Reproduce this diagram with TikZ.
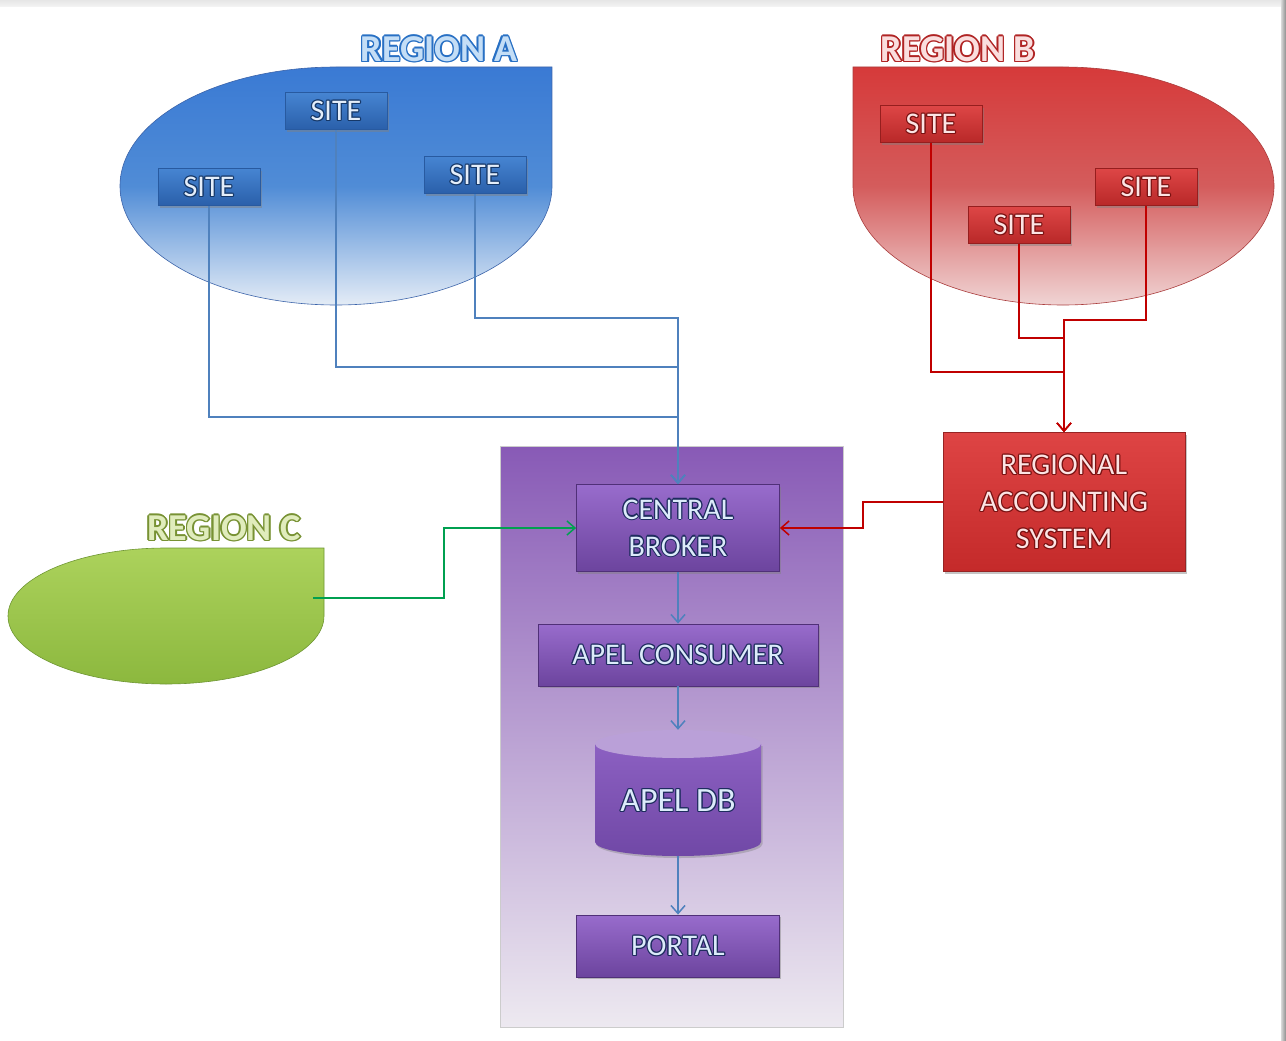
\documentclass[tikz,border=0pt]{standalone}
\usepackage{fontspec}
\setmainfont{Carlito}
\usetikzlibrary{arrows.meta,shadows,calc}
\definecolor{blline}{HTML}{4F81BD}
\definecolor{rdline}{HTML}{C00000}
\definecolor{grline}{HTML}{00A050}
\definecolor{ptxt}{HTML}{DCEBFA}
\definecolor{pout}{HTML}{1E2C5E}
\definecolor{btxt}{HTML}{E4EEFA}
\definecolor{bout}{HTML}{163868}
\definecolor{rtxt}{HTML}{FCE4E4}
\definecolor{rout}{HTML}{7A1212}
\definecolor{pboxtop}{RGB}{152,108,204}
\definecolor{pboxbot}{RGB}{108,68,158}
\definecolor{tAf}{RGB}{196,222,246}
\definecolor{tAo}{RGB}{40,112,196}
\definecolor{tBf}{RGB}{250,222,222}
\definecolor{tBo}{RGB}{176,36,36}
\definecolor{tCf}{RGB}{224,236,188}
\definecolor{tCo}{RGB}{120,146,52}
\newbox\olbox
\newdimen\olda
\newdimen\oldb
\newcommand\olt[4]{% #1 fill, #2 outline, #3 offset, #4 text
 \setbox\olbox\hbox{#4}\olda=#3\relax\oldb=0.7\olda\leavevmode
 \rlap{\kern\olda\textcolor{#2}{\copy\olbox}}%
 \rlap{\kern-\olda\textcolor{#2}{\copy\olbox}}%
 \rlap{\raisebox{\olda}{\textcolor{#2}{\copy\olbox}}}%
 \rlap{\raisebox{-\olda}{\textcolor{#2}{\copy\olbox}}}%
 \rlap{\kern\oldb\raisebox{\oldb}{\textcolor{#2}{\copy\olbox}}}%
 \rlap{\kern-\oldb\raisebox{\oldb}{\textcolor{#2}{\copy\olbox}}}%
 \rlap{\kern\oldb\raisebox{-\oldb}{\textcolor{#2}{\copy\olbox}}}%
 \rlap{\kern-\oldb\raisebox{-\oldb}{\textcolor{#2}{\copy\olbox}}}%
 \textcolor{#1}{\copy\olbox}}
\newcommand\pbt[1]{\olt{ptxt}{pout}{1.2pt}{#1}}
\newcommand\bst[1]{\olt{btxt}{bout}{1.2pt}{#1}}
\newcommand\rst[1]{\olt{rtxt}{rout}{1.2pt}{#1}}
\begin{document}
\begin{tikzpicture}[x=1pt,y=-1pt,
  txt/.style={font=\fontsize{30}{37}\selectfont, align=center, inner sep=0pt},
  sitebl/.style={txt, draw={rgb,255:red,40;green,90;blue,160}, line width=0.8pt, top color={rgb,255:red,70;green,132;blue,210}, bottom color={rgb,255:red,42;green,96;blue,170}, minimum width=102pt, minimum height=37pt, drop shadow={opacity=0.45, shadow xshift=1.5pt, shadow yshift=-2pt}},
  siterd/.style={txt, draw={rgb,255:red,150;green,30;blue,30}, line width=0.8pt, top color={rgb,255:red,222;green,70;blue,70}, bottom color={rgb,255:red,184;green,40;blue,40}, minimum width=102pt, minimum height=37pt, drop shadow={opacity=0.45, shadow xshift=1.5pt, shadow yshift=-2pt}},
  pbox/.style={txt, draw={rgb,255:red,80;green,48;blue,120}, line width=0.8pt, top color=pboxtop, bottom color=pboxbot, drop shadow={opacity=0.45, shadow xshift=1.5pt, shadow yshift=-2pt}},
  bl/.style={draw=blline, line width=1.5pt, -{Straight Barb[length=8pt,width=14pt]}},
  rd/.style={draw=rdline, line width=1.5pt, -{Straight Barb[length=8pt,width=14pt]}},
  gr/.style={draw=grline, line width=1.5pt, -{Straight Barb[length=8pt,width=14pt]}},
  title/.style={font=\fontsize{38}{40}\selectfont\bfseries, inner sep=0pt}
]
\useasboundingbox (0,0) rectangle (1286,1041);
\fill[white] (0,0) rectangle (1286,1041);
\shade[top color=black!10, bottom color=black!4] (0,0) rectangle (1286,7);
\shade[left color=black!15, right color=black!45] (1281,0) rectangle (1286,1041);

% ---------- Region A ----------
\path[draw={rgb,255:red,60;green,100;blue,170}, line width=0.6pt, top color={rgb,255:red,58;green,122;blue,212}, bottom color={rgb,255:red,228;green,236;blue,246}, middle color={rgb,255:red,80;green,140;blue,214}]
  (120,186) .. controls (120,120.3) and (216.7,67) .. (336,67) -- (552,67) -- (552,186)
  .. controls (552,251.7) and (455.3,305) .. (336,305)
  .. controls (216.7,305) and (120,251.7) .. (120,186) -- cycle;
\node[title] (tA) at (439,49) {\olt{tAf}{tAo}{1.6pt}{REGION A}};

% ---------- Region B ----------
\path[draw={rgb,255:red,170;green,60;blue,60}, line width=0.6pt, top color={rgb,255:red,214;green,58;blue,58}, bottom color={rgb,255:red,240;green,212;blue,212}, middle color={rgb,255:red,212;green,92;blue,92}]
  (853,67) -- (1063,67) .. controls (1179.5,67) and (1274,120.3) .. (1274,186)
  .. controls (1274,251.7) and (1179.5,305) .. (1063,305)
  .. controls (946.5,305) and (853,251.7) .. (853,186) -- cycle;
\node[title] (tB) at (958,49) {\olt{tBf}{tBo}{1.6pt}{REGION B}};

% ---------- Region C ----------
\path[draw={rgb,255:red,110;green,150;blue,50}, line width=0.6pt, top color={rgb,255:red,172;green,210;blue,92}, bottom color={rgb,255:red,140;green,184;blue,62}]
  (8,616) .. controls (8,578.4) and (78.7,548) .. (166,548) -- (324,548) -- (324,616)
  .. controls (324,653.6) and (253.3,684) .. (166,684)
  .. controls (78.7,684) and (8,653.6) .. (8,616) -- cycle;
\node[title] (tC) at (224,528) {\olt{tCf}{tCo}{1.6pt}{REGION C}};

% ---------- container ----------
\node[draw=black!20, line width=0.8pt, top color={rgb,255:red,136;green,90;blue,182}, middle color={rgb,255:red,162;green,128;blue,198}, bottom color={rgb,255:red,237;green,233;blue,240}, minimum width=343pt, minimum height=581pt, inner sep=0pt] (cont) at (671.5,736.5) {};

% ---------- sites ----------
\node[sitebl] (sA1) at (209,187) {\bst{SITE}};
\node[sitebl] (sA2) at (336,111) {\bst{SITE}};
\node[sitebl] (sA3) at (475,175) {\bst{SITE}};
\node[siterd] (sB1) at (931,124) {\rst{SITE}};
\node[siterd] (sB2) at (1019,225) {\rst{SITE}};
\node[siterd] (sB3) at (1146,187) {\rst{SITE}};

% ---------- central components ----------
\node[pbox, minimum width=203pt, minimum height=87pt] (broker) at (678,528) {\pbt{CENTRAL}\\\pbt{BROKER}};
\node[pbox, minimum width=280pt, minimum height=62pt] (consumer) at (678,655) {\pbt{APEL CONSUMER}};
\node[pbox, minimum width=203pt, minimum height=62pt] (portal) at (678,946) {\pbt{PORTAL}};

% database cylinder
\shade[top color={rgb,255:red,140;green,96;blue,194}, bottom color={rgb,255:red,112;green,72;blue,166}, drop shadow={opacity=0.4, shadow xshift=1.5pt, shadow yshift=-2pt}]
  (595,744) -- (595,842) .. controls (595,849.7) and (632.2,856) .. (678,856)
  .. controls (723.8,856) and (761,849.7) .. (761,842) -- (761,744) -- cycle;
\fill[color={rgb,255:red,186;green,160;blue,216}]
  (595,744) .. controls (595,736.3) and (632.2,730) .. (678,730)
  .. controls (723.8,730) and (761,736.3) .. (761,744)
  .. controls (761,751.7) and (723.8,758) .. (678,758)
  .. controls (632.2,758) and (595,751.7) .. (595,744) -- cycle;
\node[txt, font=\fontsize{34}{37}\selectfont, text height=44pt, text depth=7pt, minimum width=166pt, minimum height=126pt] (db) at (678,793) {\pbt{APEL DB}};

% regional accounting
\node[txt, draw={rgb,255:red,150;green,36;blue,36}, line width=0.8pt, top color={rgb,255:red,222;green,68;blue,68}, bottom color={rgb,255:red,196;green,42;blue,42}, minimum width=242pt, minimum height=139pt, drop shadow={opacity=0.45, shadow xshift=1.5pt, shadow yshift=-2pt}] (ras) at (1064,502) {\rst{REGIONAL}\\\rst{ACCOUNTING}\\\rst{SYSTEM}};

% ---------- connectors ----------
\coordinate (jA3) at (678,318);
\coordinate (jA2) at (678,367);
\coordinate (jA1) at (678,417);
\draw[bl] (sA3.south) |- (jA3) -- (broker.north);
\draw[bl] (sA2.south) |- (jA2) -- (broker.north);
\draw[bl] (sA1.south) |- (jA1) -- (broker.north);

\coordinate (jB3) at (1064,320);
\coordinate (jB2) at (1064,338);
\coordinate (jB1) at (1064,372);
\draw[rd] (sB3.south) |- (jB3) -- (ras.north);
\draw[rd] (sB2.south) |- (jB2) -- (ras.north);
\draw[rd] (sB1.south) |- (jB1) -- (ras.north);

\coordinate (jR) at (863,502);
\draw[rd] (ras.west) -- (jR) |- (broker.east);

\coordinate (cstart) at (313,598);
\coordinate (jC) at (444,598);
\draw[gr] (cstart) -- (jC) |- (broker.west);

\draw[bl] (broker.south) -- (consumer.north);
\draw[bl] (consumer.south) -- (db.north);
\draw[bl] (db.south) -- (portal.north);
\end{tikzpicture}
\end{document}
